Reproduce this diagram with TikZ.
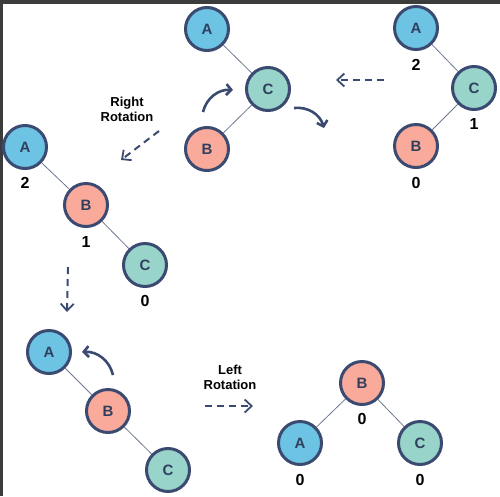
\documentclass[tikz,border=0pt]{standalone}
\usepackage{fontspec}
\setmainfont{Liberation Sans}
\usepackage{xcolor}
\usetikzlibrary{arrows.meta}
\usetikzlibrary{positioning}

\definecolor{colA}{HTML}{6DC3E3}
\definecolor{colB}{HTML}{FAAA9B}
\definecolor{colC}{HTML}{98D4C9}
\definecolor{rim}{HTML}{3A4A70}
\definecolor{edgegray}{HTML}{6E7891}
\definecolor{framegray}{HTML}{3C3C3C}

\tikzset{
    tnode/.style={circle, draw=rim, line width=3pt, minimum size=43pt, inner sep=0pt,
        text=rim!85!black, font=\fontsize{15}{15}\selectfont\bfseries},
    bal/.style={font=\fontsize{16}{16}\selectfont\bfseries, inner sep=0pt},
    caption/.style={align=center, font=\fontsize{13}{15}\selectfont\bfseries},
    link/.style={draw=edgegray, line width=0.8pt},
    flow/.style={draw=rim, line width=2pt, dash pattern=on 7pt off 5pt,
        -{Straight Barb[length=7pt,width=13pt,line width=1.8pt]}},
    turn/.style={draw=rim, line width=2.6pt,
        -{Straight Barb[length=5pt,width=11pt,line width=2.6pt]}},
}

\begin{document}
\begin{tikzpicture}[x=1pt, y=-1pt, on grid]
    \useasboundingbox (0,0) rectangle (500,496);
    \fill[framegray] (0,0) rectangle (500,4);
    \fill[framegray] (0,0) rectangle (2.5,496);

    % top middle: C with children A and B
    \node[tnode, fill=colA] (ta) at (207,29) {A};
    \node[tnode, fill=colC, below right=60pt and 61pt of ta] (tc) {C};
    \node[tnode, fill=colB, below left=60pt and 61pt of tc] (tb) {B};
    \draw[link] (ta) -- (tc);
    \draw[link] (tc) -- (tb);

    % top right: unbalanced A-C-B
    \node[tnode, fill=colA] (ra) at (416,28) {A};
    \node[tnode, fill=colC, below right=60pt and 58pt of ra] (rc) {C};
    \node[tnode, fill=colB, below left=58pt and 58pt of rc] (rb) {B};
    \draw[link] (ra) -- (rc);
    \draw[link] (rc) -- (rb);
    \node[bal, below=37pt of ra] (ra2) {2};
    \node[bal, below=36pt of rc] (rc1) {1};
    \node[bal, below=37pt of rb] (rb0) {0};

    % middle left: A-B-C chain
    \node[tnode, fill=colA] (la) at (25,147) {A};
    \node[tnode, fill=colB, below right=58pt and 61pt of la] (lb) {B};
    \node[tnode, fill=colC, below right=60pt and 59pt of lb] (lc) {C};
    \draw[link] (la) -- (lb);
    \draw[link] (lb) -- (lc);
    \node[bal, below=36pt of la] (la2) {2};
    \node[bal, below=37pt of lb] (lb1) {1};
    \node[bal, below=36pt of lc] (lc0) {0};

    % bottom left
    \node[tnode, fill=colA] (da) at (49,352) {A};
    \node[tnode, fill=colB, below right=59pt and 59pt of da] (db) {B};
    \node[tnode, fill=colC, below right=59pt and 60pt of db] (dc) {C};
    \draw[link] (da) -- (db);
    \draw[link] (db) -- (dc);

    % bottom right: balanced
    \node[tnode, fill=colB] (eb) at (362,383) {B};
    \node[tnode, fill=colA, below left=60pt and 62pt of eb] (ea) {A};
    \node[tnode, fill=colC, below right=60pt and 58pt of eb] (ec) {C};
    \draw[link] (eb) -- (ea);
    \draw[link] (eb) -- (ec);
    \node[bal, below=36pt of eb] (eb0) {0};
    \node[bal, below=37pt of ea] (ea0) {0};
    \node[bal, below=37pt of ec] (ec0) {0};

    % captions
    \node[caption] (rrot) at (127,109) {Right\\Rotation};
    \node[caption] (lrot) at (230,377) {Left\\Rotation};

    % dashed steps
    \coordinate (s1a) at (384,80);
    \coordinate (s1b) at (336,80);
    \coordinate (s2a) at (159,131);
    \coordinate (s2b) at (121,160);
    \coordinate (s3a) at (68,267);
    \coordinate (s3b) at (67,312);
    \coordinate (s4a) at (205,406);
    \coordinate (s4b) at (253,406);
    \draw[flow] (s1a) -- (s1b);
    \draw[flow] (s2a) -- (s2b);
    \draw[flow] (s3a) -- (s3b);
    \draw[flow] (s4a) -- (s4b);

    % rotation arrows
    \coordinate (u1a) at (203,112);
    \coordinate (u1b) at (233,90);
    \coordinate (u2a) at (294,108);
    \coordinate (u2b) at (324,128);
    \coordinate (u3a) at (113,375);
    \coordinate (u3b) at (82,352);
    \draw[turn] (u1a) to[bend left=40] (u1b);
    \draw[turn] (u2a) to[bend left=40] (u2b);
    \draw[turn] (u3a) to[bend right=40] (u3b);
\end{tikzpicture}
\end{document}
